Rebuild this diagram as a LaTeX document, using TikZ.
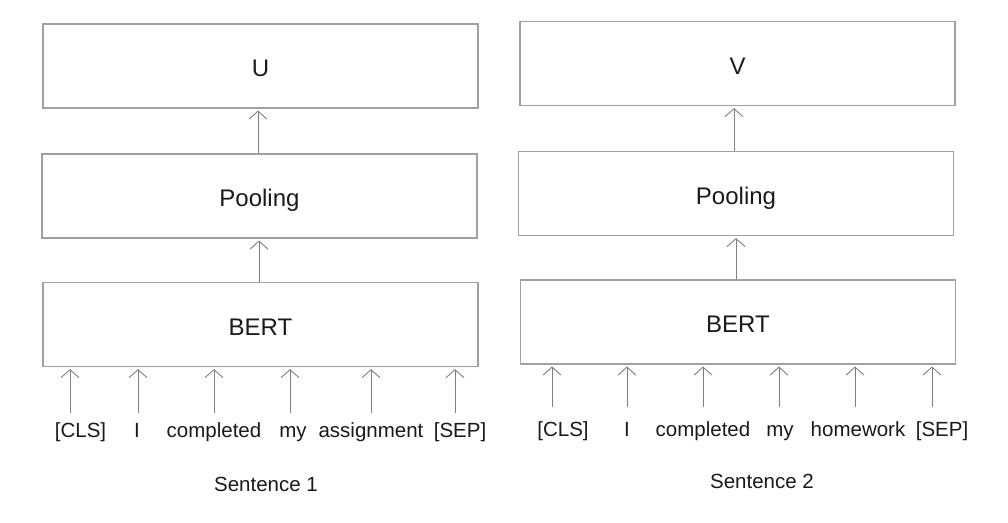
\documentclass[tikz,border=0pt]{standalone}
\usepackage{fontspec}
\setmainfont{Liberation Sans}
\usetikzlibrary{arrows.meta}
\definecolor{boxline}{HTML}{A0A0A0}
\definecolor{arrline}{HTML}{7E7E7E}
\definecolor{txt}{HTML}{1A1A1A}
\begin{document}
\begin{tikzpicture}[x=1pt,y=-1pt,
  box/.style={draw=boxline, line width=1.1pt, minimum width=435pt, minimum height=84pt,
    inner sep=0pt, text height=21pt, text depth=0pt, text=txt,
    font=\fontsize{24}{28}\selectfont},
  tok/.style={anchor=base, inner sep=0pt, text=txt, font=\fontsize{20.5}{24}\selectfont},
  sent/.style={anchor=base, inner sep=0pt, text=txt, font=\fontsize{20.5}{24}\selectfont},
  arr/.style={draw=arrline, line width=0.9pt,
    -{Straight Barb[length=8pt,width=18pt,line width=0.9pt]}, shorten >=2pt}
]
\useasboundingbox (0,0) rectangle (1008,522);
\fill[white] (0,0) rectangle (1008,522);

% ---- left column ----
\node[box] (U)     at (260.5,66)  {U};
\node[box] (pool1) at (259.5,196) {Pooling};
\node[box] (bert1) at (260.5,324.5) {BERT};
\draw[arr] (pool1.north -| 258,0) -- (U.south -| 258,0);
\draw[arr] (bert1.north -| 259,0) -- (pool1.south -| 259,0);

\node[tok] (t11) at (80.5,437) {[CLS]};
\node[tok] (t12) at (137,437) {I};
\node[tok] (t13) at (214,437) {completed};
\node[tok] (t14) at (293,437) {my};
\node[tok] (t15) at (371,437) {assignment};
\node[tok] (t16) at (460,437) {[SEP]};
\coordinate (a11) at (70,413);
\coordinate (a12) at (138,413);
\coordinate (a13) at (214,413);
\coordinate (a14) at (290,413);
\coordinate (a15) at (371,413);
\coordinate (a16) at (455,413);
\foreach \i in {11,12,13,14,15,16}
  \draw[arr] (a\i) -- (a\i |- bert1.south);
\node[sent] (s1) at (266,491.5) {Sentence 1};

% ---- right column ----
\node[box] (V)     at (737.5,63.5) {V};
\node[box] (pool2) at (736,193.5) {Pooling};
\node[box] (bert2) at (738,322)   {BERT};
\draw[arr] (pool2.north -| 734,0) -- (V.south -| 734,0);
\draw[arr] (bert2.north -| 736,0) -- (pool2.south -| 736,0);

\node[tok] (t21) at (563,436) {[CLS]};
\node[tok] (t22) at (627,436) {I};
\node[tok] (t23) at (703,436) {completed};
\node[tok] (t24) at (780,436) {my};
\node[tok] (t25) at (858,436) {homework};
\node[tok] (t26) at (942,436) {[SEP]};
\coordinate (a21) at (552,407);
\coordinate (a22) at (627,407);
\coordinate (a23) at (703,407);
\coordinate (a24) at (779,407);
\coordinate (a25) at (855,407);
\coordinate (a26) at (932,407);
\foreach \i in {21,22,23,24,25,26}
  \draw[arr] (a\i) -- (a\i |- bert2.south);
\node[sent] (s2) at (762,488) {Sentence 2};
\end{tikzpicture}
\end{document}
